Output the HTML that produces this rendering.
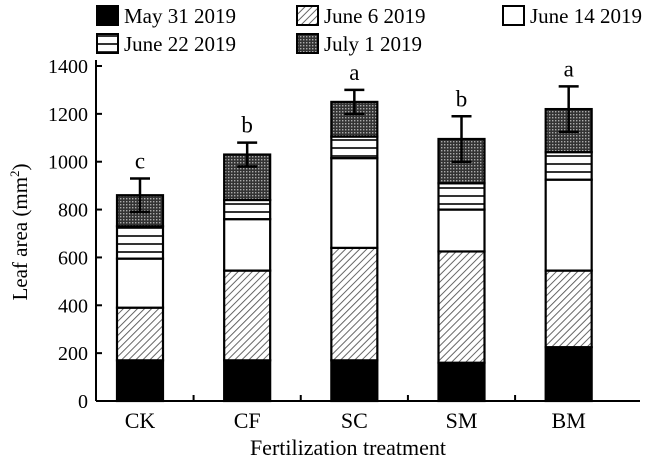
<!DOCTYPE html>
<html><head><meta charset="utf-8"><style>
html,body{margin:0;padding:0;background:#fff;}
svg{display:block;font-family:"Liberation Serif",serif;}
</style></head><body>
<svg id="c" width="645" height="462" viewBox="0 0 645 462">
<defs>
<pattern id="hatch" patternUnits="userSpaceOnUse" width="5" height="5" patternTransform="rotate(45)">
<rect width="5" height="5" fill="#fff"/><line x1="0" y1="0" x2="0" y2="5" stroke="#555" stroke-width="1.8"/></pattern>
<pattern id="hlines" patternUnits="userSpaceOnUse" width="6" height="8">
<rect width="6" height="8" fill="#fff"/><line x1="0" y1="4" x2="6" y2="4" stroke="#000" stroke-width="1.6"/></pattern>
<pattern id="check" patternUnits="userSpaceOnUse" width="3" height="3">
<rect width="3" height="3" fill="#333"/><rect width="1.4" height="1.4" fill="#aaa"/></pattern>
</defs>
<g id="g"></g>
</svg>
<script>
const categories=["CK","CF","SC","SM","BM"];
const seriesNames=["May 31 2019","June 6 2019","June 14 2019","June 22 2019","July 1 2019"];
const may31=[170,170,170,160,225];
const june6=[220,375,470,465,320];
const june14=[205,215,375,175,380];
const june22=[135,80,90,110,115];
const july1=[130,190,145,185,180];
const errors=[70,50,50,95,95];
const letters=["c","b","a","b","a"];
const yTicks=[0,200,400,600,800,1000,1200,1400];
const fills=["#000","url(#hatch)","#fff","url(#hlines)","url(#check)"];
const NS="http://www.w3.org/2000/svg";
const g=document.getElementById('g');
const X0=96,X1=640,Y0=401,Y1=66,YMAX=1400;
const y=v=>Y0-(v/YMAX)*(Y0-Y1);
const band=(X1-X0)/categories.length*0.985;
const xc=i=>140+i*band;
const BW=46;
function mk(t,a){const e=document.createElementNS(NS,t);for(const k in a)e.setAttribute(k,a[k]);g.appendChild(e);return e;}
let e=mk('line',{x1:X0,y1:Y1-6,x2:X0,y2:Y0,stroke:'#000','stroke-width':2});


e=mk('line',{x1:X0,y1:Y0,x2:X1,y2:Y0,stroke:'#000','stroke-width':2});


yTicks.forEach(t=>{
 e=mk('line',{x1:X0,y1:y(t),x2:X0+6,y2:y(t),stroke:'#000','stroke-width':2});
 
 
 e=mk('text',{x:X0-8,y:y(t)+7,'text-anchor':'end','font-size':20});e.textContent=t;
 
 
});
for(let i=1;i<categories.length;i++){
 const xx=(xc(i-1)+xc(i))/2;
 e=mk('line',{x1:xx,y1:Y0,x2:xx,y2:Y0-6,stroke:'#000','stroke-width':2});
 
 
}
const series=[may31,june6,june14,june22,july1];
categories.forEach((c,i)=>{
 let base=0;
 series.forEach((s,k)=>{
  const top=base+s[i];
  e=mk('rect',{x:xc(i)-BW/2,y:y(top),width:BW,height:y(base)-y(top),fill:fills[k],stroke:'#000','stroke-width':2.2});
  
  
  base=top;
 });
 const er=errors[i];
 e=mk('path',{d:`M${xc(i)} ${y(base-er)}V${y(base+er)}M${xc(i)-10} ${y(base+er)}H${xc(i)+10}M${xc(i)-10} ${y(base-er)}H${xc(i)+10}`,stroke:'#000','stroke-width':2.5,fill:'none'});
 
 
 e=mk('text',{x:xc(i),y:y(base+er)-10,'text-anchor':'middle','font-size':23});e.textContent=letters[i];
 
 
 e=mk('text',{x:xc(i),y:428,'text-anchor':'middle','font-size':22});e.textContent=c;
 
 
});
e=mk('text',{x:348,y:455,'text-anchor':'middle','font-size':22});e.textContent='Fertilization treatment';


e=mk('text',{transform:'translate(27,232) rotate(-90)','text-anchor':'middle','font-size':21});
e.innerHTML='Leaf area (mm<tspan dy="-8" font-size="13">2</tspan><tspan dy="8">)</tspan>';


const lx=[97,297,503,97,297],ly=[6,6,6,34,34];
seriesNames.forEach((n,k)=>{
 e=mk('rect',{x:lx[k],y:ly[k],width:21,height:19,fill:fills[k],stroke:'#000','stroke-width':2});
 
 
 e=mk('text',{x:lx[k]+27,y:ly[k]+17,'font-size':21});e.textContent=n;
 
 
});
</script>
</body></html>
